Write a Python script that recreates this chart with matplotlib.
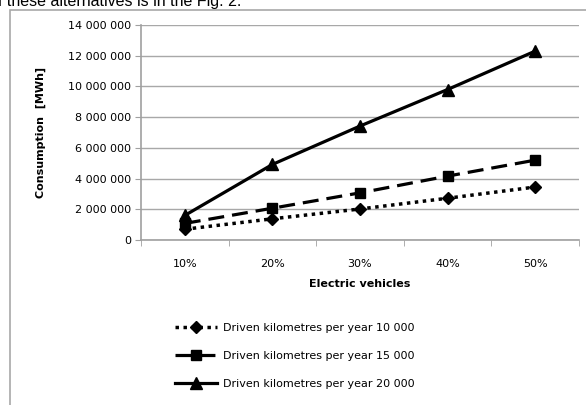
import numpy as np
import matplotlib.pyplot as plt
from matplotlib.patches import Rectangle
from matplotlib.ticker import FuncFormatter

# share of electric vehicles
categories = ['10%', '20%', '30%', '40%', '50%']

# consumption [MWh] for each driven distance per year
km_10000 = [700000, 1380000, 2020000, 2720000, 3450000]
km_15000 = [1080000, 2070000, 3070000, 4160000, 5200000]
km_20000 = [1600000, 4920000, 7420000, 9800000, 12300000]

labels = ['Driven kilometres per year 10 000',
          'Driven kilometres per year 15 000',
          'Driven kilometres per year 20 000']

plt.rcParams['font.family'] = 'DejaVu Sans'

fig = plt.figure(figsize=(5.86, 4.05), dpi=100)
W, H = 586, 405

# piece of the surrounding document text, cut off at the top
fig.text(-11 / W, 1 - 6 / H, 'of these alternatives is in the Fig. 2.',
         fontsize=11.5, family='Liberation Sans', va='baseline', ha='left')

# outer chart frame
fig.patches.append(Rectangle((10 / W, -0.1), 1.2, 1 - 10 / H + 0.1,
                             transform=fig.transFigure, fill=False,
                             edgecolor='#a8a8a8', lw=1.2))

ax = fig.add_axes([141 / W, 1 - 240 / H, (579 - 141) / W, (240 - 25) / H])

x = np.arange(len(categories))
ax.plot(x, km_10000, color='black', lw=2.5, linestyle=(0, (1, 1.3)),
        dash_capstyle='butt', marker='D', markersize=6.5, label=labels[0])
ax.plot(x, km_15000, color='black', lw=2.3, linestyle=(0, (5, 2.5)),
        marker='s', markersize=7.5, label=labels[1])
ax.plot(x, km_20000, color='black', lw=2.3, linestyle='-',
        marker='^', markersize=8, label=labels[2])

ax.set_xlim(-0.5, len(categories) - 0.5)
ax.set_ylim(0, 14000000)
ax.set_yticks(np.arange(0, 14000001, 2000000))
ax.yaxis.set_major_formatter(FuncFormatter(lambda v, p: f'{int(v):,}'.replace(',', ' ')))
ax.set_xticks(x)
ax.set_xticklabels(categories)
ax.set_xticks(np.arange(-0.5, len(categories)), minor=True)
ax.tick_params(axis='x', which='major', length=0, pad=14, labelsize=8)
ax.tick_params(axis='x', which='minor', length=4, color='#a0a0a0')
ax.tick_params(axis='y', length=4, color='#a0a0a0', labelsize=8, pad=3)

ax.grid(axis='y', color='#a8a8a8', lw=1)
ax.set_axisbelow(True)
for s in ['top', 'right']:
    ax.spines[s].set_visible(False)
for s in ['left', 'bottom']:
    ax.spines[s].set_color('#a0a0a0')
    ax.spines[s].set_linewidth(1.2)

ax.set_xlabel('Electric vehicles', fontsize=8, fontweight='bold', labelpad=7)
ax.set_ylabel('Consumption  [MWh]', fontsize=8, fontweight='bold', labelpad=16)

fig.legend(loc='upper left', bbox_to_anchor=(165 / W, 1 - 313 / H),
           frameon=False, fontsize=8, handlelength=3.8, handletextpad=0.5,
           labelspacing=1.6)

fig.savefig('out.png', dpi=100)
